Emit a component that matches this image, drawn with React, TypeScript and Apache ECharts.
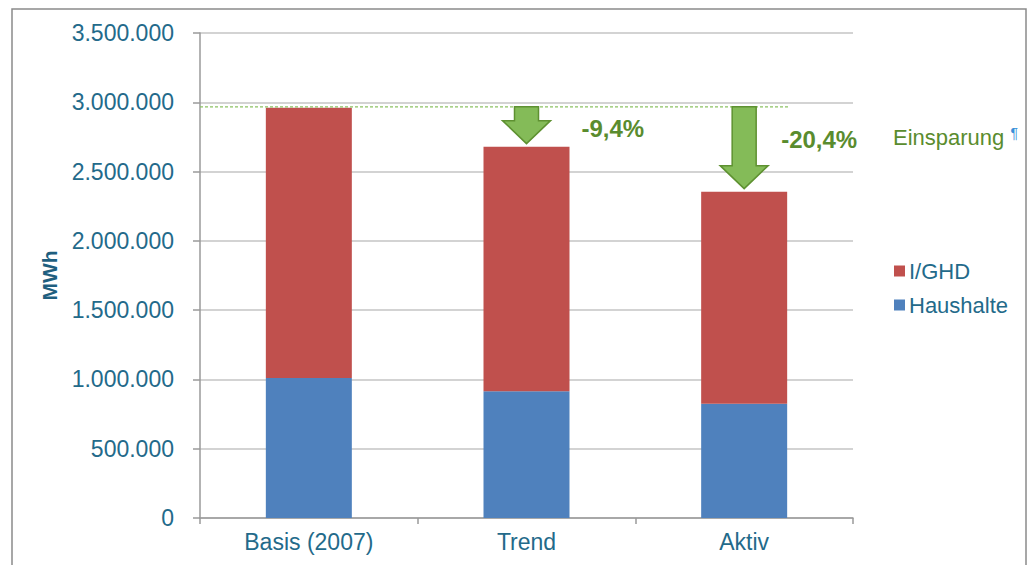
import React, { useEffect, useRef } from "react";
import * as echarts from "echarts";

const categories = ["Basis (2007)", "Trend", "Aktiv"];
const haushalte = [1010000, 915000, 825000];
const ighd = [1950000, 1765000, 1530000];
const baseTotal = 2960000;
const savings: [number, number, string][] = [
  [1, 2680000, "-9,4%"],
  [2, 2355000, "-20,4%"],
];
const yTicks = { min: 0, max: 3500000, interval: 500000 };

const labelOffsets: Record<number, [number, number]> = { 1: [55, 22], 2: [37, 33] };

const fmt = (v: number) => String(v).replace(/\B(?=(\d{3})+(?!\d))/g, ".");

export default function App() {
  const ref = useRef<HTMLDivElement>(null);
  useEffect(() => {
    const chart = echarts.init(ref.current!, null, { renderer: "svg" });
    const font = "'Liberation Sans', Arial, sans-serif";
    const textColor = "#236a8a";
    chart.setOption({
      animation: false,
      textStyle: { fontFamily: font },
      grid: { left: 200, right: 176, top: 33, bottom: 47 },
      legend: {
        data: ["I/GHD", "Haushalte"],
        orient: "vertical",
        left: 889,
        top: 255,
        itemWidth: 11,
        itemHeight: 11,
        itemGap: 12,
        icon: "rect",
        textStyle: { color: textColor, fontSize: 22, fontFamily: font, padding: [0, 0, 0, -1] },
      },
      xAxis: {
        type: "category",
        data: categories,
        axisLine: { lineStyle: { color: "#9a9a9a", width: 1.5 } },
        axisTick: { show: true, length: 6, lineStyle: { color: "#9a9a9a", width: 1.5 } },
        axisLabel: { color: textColor, fontSize: 23, margin: 12, fontFamily: font },
      },
      yAxis: {
        type: "value",
        ...yTicks,
        name: "MWh",
        nameLocation: "middle",
        nameRotate: 90,
        nameGap: 140,
        nameTextStyle: { color: "#1f5f7f", fontSize: 21, fontWeight: "bold", fontFamily: font },
        axisLine: { show: true, lineStyle: { color: "#9a9a9a", width: 1.5 } },
        axisTick: { show: true, length: 7, lineStyle: { color: "#9a9a9a", width: 1.5 } },
        axisLabel: { color: textColor, fontSize: 23, margin: 26, fontFamily: font, formatter: (v: number) => fmt(v) },
        splitLine: { lineStyle: { color: "#c4c4c4", width: 1.5 } },
      },
      series: [
        {
          name: "Haushalte",
          type: "bar",
          stack: "total",
          barWidth: 86,
          data: haushalte,
          itemStyle: { color: "#4f81bd" },
        },
        {
          name: "I/GHD",
          type: "bar",
          stack: "total",
          barWidth: 86,
          data: ighd,
          itemStyle: { color: "#c0504d" },
        },
        {
          name: "base",
          type: "custom",
          z: 5,
          data: [[2, baseTotal]],
          renderItem: (params: any, api: any) => {
            const p = api.coord([api.value(0), api.value(1)]);
            return {
              type: "line",
              shape: { x1: params.coordSys.x, y1: p[1] - 1, x2: p[0] + 44, y2: p[1] - 1 },
              style: { stroke: "#8cc263", lineWidth: 1.2, lineDash: [3, 2] },
            };
          },
        },
        {
          name: "arrows",
          type: "custom",
          z: 6,
          data: savings,
          renderItem: (params: any, api: any) => {
            const idx = api.value(0);
            const top = api.coord([idx, baseTotal]);
            const bottom = api.coord([idx, api.value(1)]);
            const cx = top[0];
            const y0 = top[1] - 1;
            const tip = bottom[1] - 3;
            const headLen = 23;
            const sw = 12;
            const hw = 24;
            const hy = tip - headLen;
            const off = labelOffsets[idx] || [45, 25];
            const label = savings[params.dataIndex][2];
            return {
              type: "group",
              children: [
                {
                  type: "polygon",
                  shape: {
                    points: [
                      [cx - sw, y0],
                      [cx + sw, y0],
                      [cx + sw, hy],
                      [cx + hw, hy],
                      [cx, tip],
                      [cx - hw, hy],
                      [cx - sw, hy],
                    ],
                  },
                  style: { fill: "#84bb58", stroke: "#5e9131", lineWidth: 1.5 },
                },
                {
                  type: "text",
                  x: cx + off[0],
                  y: y0 + off[1],
                  style: {
                    text: label,
                    fill: "#5a8c2e",
                    font: `bold 24px ${font}`,
                    verticalAlign: "middle",
                    align: "left",
                  },
                },
              ],
            };
          },
        },
      ],
      graphic: [
        {
          type: "rect",
          shape: { x: 12, y: 9, width: 1014, height: 580 },
          style: { fill: "none", stroke: "#8a8a8a", lineWidth: 1.5 },
          silent: true,
        },
        {
          type: "text",
          x: 893,
          y: 137,
          style: {
            text: "Einsparung {p|¶}",
            fill: "#5a8c2e",
            font: `22px ${font}`,
            verticalAlign: "middle",
            rich: { p: { fill: "#3b8fd8", fontSize: 14, fontFamily: font, verticalAlign: "top" } },
          },
        },
      ],
    });
    return () => chart.dispose();
  }, []);
  return <div ref={ref} style={{ position: "fixed", left: 0, top: 0, width: 1029, height: 565, background: "#fff" }} />;
}
